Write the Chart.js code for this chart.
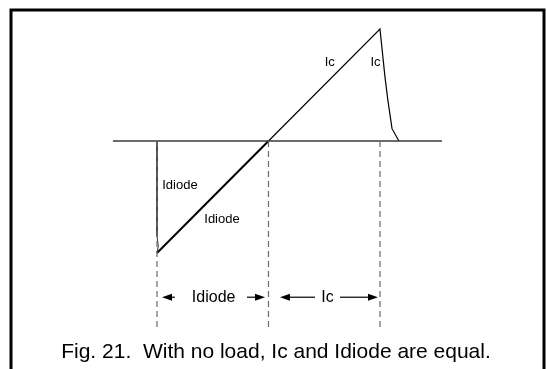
<!DOCTYPE html>
<html>
<head>
<meta charset="utf-8">
<script src="https://cdn.jsdelivr.net/npm/chart.js@4"></script>
<style>
  body { margin: 0; background: #fff; }
  #wrap { width: 547px; height: 369px; }
</style>
</head>
<body>
<div id="wrap"><canvas id="fig21" width="547" height="369"></canvas></div>
<script>
// time in units of one half-cycle (dashed markers), current normalised to peak
const markerT = [0, 1, 2];
const markerBottom = -1.66;

const diodeT = [0, 1];
const diodeI = [-1, 0];

const icT = [1, 2, 2.045, 2.07, 2.108, 2.17];
const icI = [0, 1, 0.57, 0.37, 0.11, 0];

const spikeT = [0, 0, 0.012, 0];
const spikeI = [0, -0.85, -0.94, -1];

const axisT = [-0.395, 2.556];

// curve labels: text, t, i
const curveLabels = [
  ["Idiode", 0.206, -0.40],
  ["Idiode", 0.583, -0.70],
  ["Ic", 1.55, 0.70],
  ["Ic", 1.96, 0.70]
];

// span arrows under the plot: label, label t, [tail, head] left, [tail, head] right
const spanRow = -1.395;
const spans = [
  ["Idiode", 0.508, [0.161, 0.045], [0.807, 0.969]],
  ["Ic", 1.53, [1.417, 1.103], [1.641, 1.982]]
];

const caption = "Fig. 21.  With no load, Ic and Idiode are equal.";

const pts = (xs, ys) => xs.map((x, k) => ({ x: x, y: ys[k] }));
const FONT = '"Liberation Sans", Arial, sans-serif';

const datasets = [];
markerT.forEach(t => {
  datasets.push({
    data: pts([t, t], [0, markerBottom]),
    borderColor: "#6a6a6a", borderWidth: 1.2, borderDash: [6, 4]
  });
});
datasets.push({ data: pts(axisT, [0, 0]), borderColor: "#3a3a3a", borderWidth: 1.5 });
datasets.push({ data: pts(spikeT, spikeI), borderColor: "#333", borderWidth: 1 });
datasets.push({ data: pts(diodeT, diodeI), borderColor: "#000", borderWidth: 2 });
datasets.push({ data: pts(icT, icI), borderColor: "#000", borderWidth: 1.2 });
datasets.forEach(d => { d.showLine = true; d.pointRadius = 0; d.fill = false; d.tension = 0; });

function arrow(ctx, x1, x2, y) {
  const dir = x2 > x1 ? 1 : -1;
  ctx.beginPath();
  ctx.moveTo(x1, y);
  ctx.lineTo(x2 - dir * 8, y);
  ctx.stroke();
  ctx.beginPath();
  ctx.moveTo(x2, y);
  ctx.lineTo(x2 - dir * 10, y - 3.5);
  ctx.lineTo(x2 - dir * 10, y + 3.5);
  ctx.closePath();
  ctx.fill();
}

const annotate = {
  id: "annotate",
  afterDatasetsDraw(chart) {
    const ctx = chart.ctx;
    const xs = chart.scales.x, ys = chart.scales.y;
    ctx.save();
    ctx.fillStyle = "#000";
    ctx.strokeStyle = "#000";
    ctx.textAlign = "center";
    ctx.textBaseline = "middle";

    ctx.font = "13px " + FONT;
    curveLabels.forEach(([txt, t, i]) => {
      ctx.fillText(txt, xs.getPixelForValue(t), ys.getPixelForValue(i));
    });

    ctx.font = "16px " + FONT;
    ctx.lineWidth = 1.2;
    const yRow = ys.getPixelForValue(spanRow);
    spans.forEach(([txt, t, left, right]) => {
      ctx.fillText(txt, xs.getPixelForValue(t), yRow);
      arrow(ctx, xs.getPixelForValue(left[0]), xs.getPixelForValue(left[1]), yRow);
      arrow(ctx, xs.getPixelForValue(right[0]), xs.getPixelForValue(right[1]), yRow);
    });

    ctx.font = "21px " + FONT;
    ctx.textBaseline = "alphabetic";
    ctx.fillText(caption, 276, 358);

    // figure frame, open at the bottom edge
    ctx.lineWidth = 3;
    ctx.beginPath();
    ctx.moveTo(11, 380);
    ctx.lineTo(11, 10);
    ctx.lineTo(544, 10);
    ctx.lineTo(544, 380);
    ctx.stroke();
    ctx.restore();
  }
};

new Chart(document.getElementById("fig21"), {
  type: "scatter",
  data: { datasets: datasets },
  options: {
    responsive: false,
    devicePixelRatio: 1,
    animation: false,
    layout: { padding: 0 },
    plugins: { legend: { display: false }, tooltip: { enabled: false } },
    scales: {
      x: { type: "linear", display: false, min: -1.408, max: 3.498 },
      y: { type: "linear", display: false, min: -2.036, max: 1.259 }
    }
  },
  plugins: [annotate]
});
</script>
</body>
</html>
